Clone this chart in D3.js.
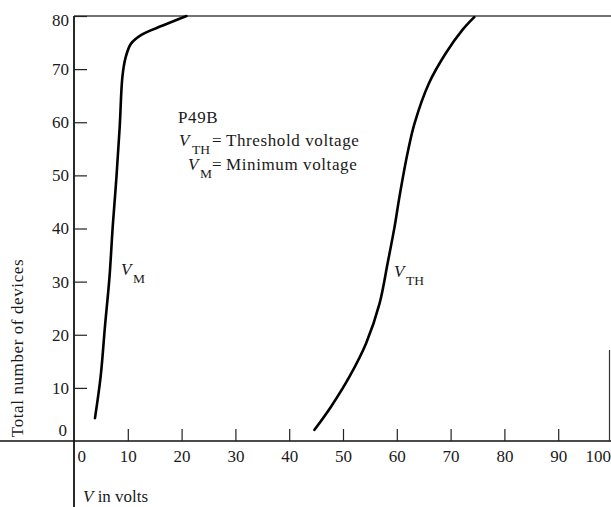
<!DOCTYPE html>
<html>
<head>
<meta charset="utf-8">
<script src="https://cdn.jsdelivr.net/npm/d3@7"></script>
<style>
  html, body { margin: 0; padding: 0; background: #fff; }
  svg { display: block; }
  text { font-family: "Liberation Serif", "DejaVu Serif", serif; fill: #1a1a1a; }
</style>
</head>
<body>
<svg id="chart" width="611" height="507"></svg>
<script>
// ---- data ----
const xTicks = [0, 10, 20, 30, 40, 50, 60, 70, 80, 90, 100];
const yTicks = [0, 10, 20, 30, 40, 50, 60, 70, 80];

// V_M (minimum voltage) curve: volts vs cumulative number of devices
const vmVolts = [3.9, 4.95, 5.75, 6.6, 7.2, 7.9, 8.5, 9.0, 9.6, 10.6, 12.6, 16.5, 20.9];
const vmCount = [4.3, 12.1, 21.5, 30.9, 40.4, 49.8, 59.2, 68.6, 72.2, 74.8, 76.5, 78.2, 80];

// V_TH (threshold voltage) curve
const vthVolts = [44.7, 47.8, 51.2, 54.3, 56.8, 58.3, 59.6, 60.5, 62.0, 63.3, 66.0, 69.1, 72.2, 74.4];
const vthCount = [2.1, 6.5, 12.1, 18.4, 25.9, 33.5, 40.4, 46.0, 54.2, 59.8, 67.4, 73.0, 77.4, 79.8];

// ---- drawing ----
const svg = d3.select("#chart");
const x = d3.scaleLinear().domain([0, 100]).range([74, 612]);
const y = d3.scaleLinear().domain([0, 80]).range([441, 16]);

// frame lines
svg.append("line").attr("x1", 0).attr("x2", 611).attr("y1", y(0)).attr("y2", y(0))
  .attr("stroke", "#111").attr("stroke-width", 1.6);
svg.append("line").attr("x1", x(0)).attr("x2", x(0)).attr("y1", y(80)).attr("y2", 507)
  .attr("stroke", "#111").attr("stroke-width", 1.8);
svg.append("line").attr("x1", x(0)).attr("x2", 611).attr("y1", y(80)).attr("y2", y(80))
  .attr("stroke", "#444").attr("stroke-width", 1.6);
svg.append("line").attr("x1", 609.5).attr("x2", 609.5).attr("y1", 350).attr("y2", y(0))
  .attr("stroke", "#333").attr("stroke-width", 1.2);

// y axis
const yAxis = d3.axisLeft(y).tickValues(yTicks).tickSizeInner(-13).tickSizeOuter(0).tickPadding(5);
const gy = svg.append("g").attr("transform", `translate(${x(0)},0)`).call(yAxis);
gy.select(".domain").remove();
gy.selectAll(".tick line").attr("stroke", "#222").attr("stroke-width", 1.2);
gy.selectAll(".tick text").attr("font-size", 17).attr("font-family", "Liberation Serif").attr("fill", "#1a1a1a");
gy.selectAll(".tick").filter(d => d === 0).select("line").remove();
gy.selectAll(".tick").filter(d => d === 0).select("text").attr("dy", "-0.35em").attr("x", -7);
gy.selectAll(".tick").filter(d => d === 80).select("text").attr("dy", "0.55em");

// x axis
const xAxis = d3.axisBottom(x).tickValues(xTicks).tickSizeInner(-12).tickSizeOuter(0).tickPadding(9);
const gx = svg.append("g").attr("transform", `translate(0,${y(0)})`).call(xAxis);
gx.select(".domain").remove();
gx.selectAll(".tick line").attr("stroke", "#222").attr("stroke-width", 1.2);
gx.selectAll(".tick text").attr("font-size", 17).attr("font-family", "Liberation Serif").attr("fill", "#1a1a1a");
gx.selectAll(".tick").filter(d => d === 0 || d === 100).select("line").remove();
gx.selectAll(".tick").filter(d => d === 0).select("text").attr("text-anchor", "start").attr("x", 3);
gx.selectAll(".tick").filter(d => d === 100).select("text").attr("text-anchor", "end").attr("x", -1.5);

// curves
const line = d3.line().x(d => x(d[0])).y(d => y(d[1])).curve(d3.curveCatmullRom.alpha(0.5));
svg.append("path").datum(d3.zip(vmVolts, vmCount)).attr("d", line)
  .attr("fill", "none").attr("stroke", "#000").attr("stroke-width", 2.6).attr("stroke-linecap", "round");
svg.append("path").datum(d3.zip(vthVolts, vthCount)).attr("d", line)
  .attr("fill", "none").attr("stroke", "#000").attr("stroke-width", 2.6).attr("stroke-linecap", "round");

// axis titles
svg.append("text").attr("transform", "translate(23,348) rotate(-90)")
  .attr("text-anchor", "middle").attr("font-size", 17).attr("letter-spacing", 0.6)
  .text("Total number of devices");
const vt = svg.append("text").attr("x", 83).attr("y", 502).attr("font-size", 17);
vt.append("tspan").attr("font-style", "italic").text("V");
vt.append("tspan").text(" in volts");

// curve labels
function vLabel(px, py, sub, subX) {
  const t = svg.append("text").attr("x", px).attr("y", py).attr("font-size", 17);
  t.append("tspan").attr("font-style", "italic").text("V");
  t.append("tspan").attr("font-size", 13.5).attr("x", subX).attr("y", py + 8).text(sub);
  return t;
}
vLabel(121, 275, "M", 133);
vLabel(394, 277, "TH", 406);

// annotation block
svg.append("text").attr("x", 178).attr("y", 123).attr("font-size", 17).attr("letter-spacing", 0.6).text("P49B");
vLabel(179, 146, "TH", 192);
svg.append("text").attr("x", 212).attr("y", 146).attr("font-size", 17).text("=");
svg.append("text").attr("x", 226).attr("y", 146).attr("font-size", 17).attr("letter-spacing", 0.6).text("Threshold voltage");
vLabel(188, 170, "M", 200);
svg.append("text").attr("x", 212).attr("y", 170).attr("font-size", 17).text("=");
svg.append("text").attr("x", 226).attr("y", 170).attr("font-size", 17).attr("letter-spacing", 0.6).text("Minimum voltage");
</script>
</body>
</html>
